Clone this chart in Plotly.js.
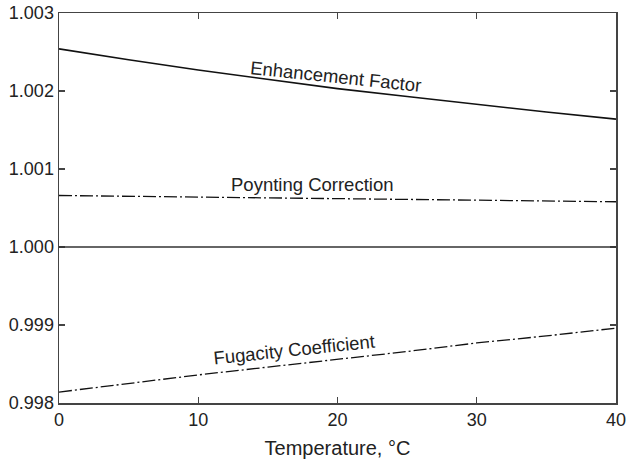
<!DOCTYPE html>
<html>
<head>
<meta charset="utf-8">
<script src="https://cdn.plot.ly/plotly-3.0.1.min.js"></script>
<style>html,body{margin:0;padding:0;background:#fff}#chart{width:626px;height:461px}</style>
</head>
<body>
<div id="chart"></div>
<script>
const temperature = [0, 5, 10, 15, 20, 25, 30, 35, 40];
const enhancementFactor = [1.00254, 1.00240, 1.00227, 1.00215, 1.00203, 1.00193, 1.00183, 1.00173, 1.00164];
const poyntingCorrection = [1.00066, 1.00065, 1.00064, 1.00063, 1.00062, 1.00061, 1.00060, 1.00059, 1.00058];
const fugacityCoefficient = [0.99814, 0.99825, 0.99836, 0.99846, 0.99856, 0.99866, 0.99877, 0.99886, 0.99896];
const referenceLevel = 1.000;
const yTicks = [0.998, 0.999, 1.000, 1.001, 1.002, 1.003];
const xTicks = [0, 10, 20, 30, 40];

const FONT = 'Liberation Sans, Arial, Helvetica, sans-serif';
const dashDot = '13px,3px,2px,3px';

const traces = [
  {x: temperature, y: enhancementFactor, mode: 'lines', line: {color: '#111', width: 1.6}, name: 'Enhancement Factor'},
  {x: temperature, y: poyntingCorrection, mode: 'lines', line: {color: '#111', width: 1.3, dash: dashDot}, name: 'Poynting Correction'},
  {x: temperature, y: fugacityCoefficient, mode: 'lines', line: {color: '#111', width: 1.3, dash: dashDot}, name: 'Fugacity Coefficient'}
];

const layout = {
  width: 626, height: 461,
  margin: {l: 59, r: 10, t: 13, b: 58},
  paper_bgcolor: '#fff', plot_bgcolor: '#fff',
  showlegend: false,
  font: {family: FONT, color: '#222', size: 18},
  xaxis: {
    range: [0, 40], tickvals: xTicks, ticktext: xTicks.map(String),
    ticks: 'inside', ticklen: 6, tickcolor: '#444', tickwidth: 1.2,
    showline: true, linecolor: '#444', linewidth: 1.5, mirror: 'ticks',
    showgrid: false, zeroline: false, ticklabeloverflow: 'allow',
    tickfont: {size: 18, family: FONT, color: '#222'},
    title: {text: 'Temperature, °C', font: {size: 20, family: FONT, color: '#222'}, standoff: 12}
  },
  yaxis: {
    range: [0.998, 1.003], tickvals: yTicks, ticktext: yTicks.map(v => v.toFixed(3)),
    ticks: 'inside', ticklen: 6, tickcolor: '#444', tickwidth: 1.2,
    showline: true, linecolor: '#444', linewidth: 1.5, mirror: 'ticks',
    showgrid: false, zeroline: false, ticklabeloverflow: 'allow',
    tickfont: {size: 18, family: FONT, color: '#222'}
  },
  shapes: [
    {type: 'line', xref: 'paper', x0: 0, x1: 1, yref: 'y', y0: referenceLevel, y1: referenceLevel,
     line: {color: '#333', width: 1.5}}
  ],
  annotations: [
    {x: 19.9, y: 1.00219, xref: 'x', yref: 'y', text: 'Enhancement Factor', showarrow: false,
     textangle: 6, font: {size: 18.5, family: FONT, color: '#222'}},
    {x: 18.2, y: 1.000795, xref: 'x', yref: 'y', text: 'Poynting Correction', showarrow: false,
     font: {size: 18.5, family: FONT, color: '#222'}},
    {x: 16.9, y: 0.99869, xref: 'x', yref: 'y', text: 'Fugacity Coefficient', showarrow: false,
     textangle: -6, font: {size: 18.5, family: FONT, color: '#222'}}
  ]
};

Plotly.newPlot('chart', traces, layout, {displayModeBar: false, staticPlot: true});
</script>
</body>
</html>
